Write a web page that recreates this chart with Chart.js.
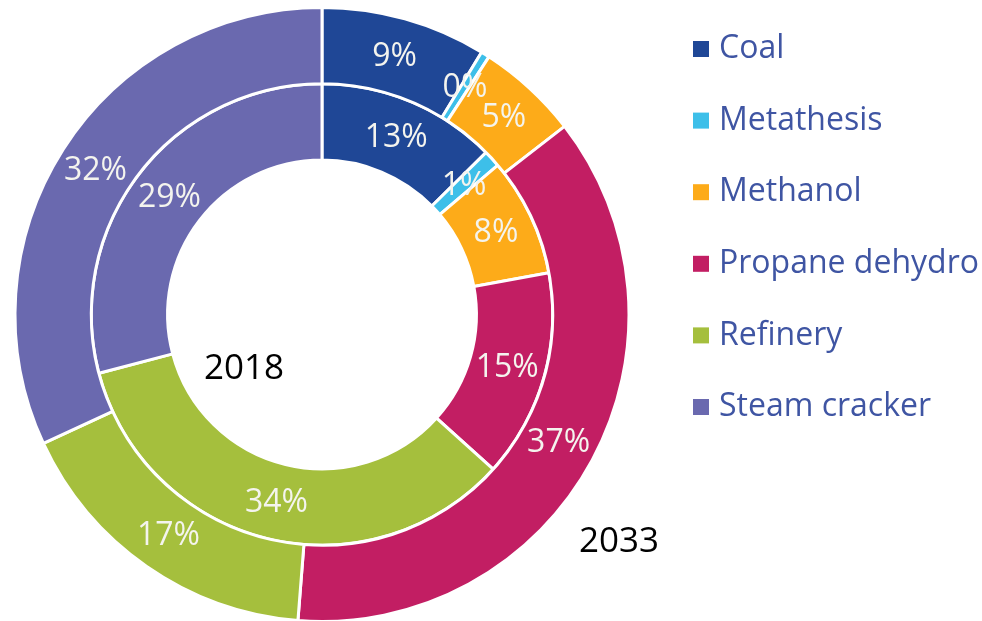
<!DOCTYPE html>
<html>
<head>
<meta charset="utf-8">
<script src="https://cdn.jsdelivr.net/npm/chart.js@4/dist/chart.umd.min.js"></script>
<style>
    html, body { margin: 0; padding: 0; background: #fff; }
    #wrap { position: relative; width: 982px; height: 621px; }
</style>
</head>
<body>
<div id="wrap"><canvas id="myChart"></canvas></div>
<script>
// categories and shares (%)
const categories = ['Coal', 'Metathesis', 'Methanol', 'Propane dehydro', 'Refinery', 'Steam cracker'];
const share2033 = [8.7, 0.45, 5.35, 36.75, 16.85, 31.9];
const share2018 = [12.6, 1.2, 8.3, 14.6, 34.2, 29.1];
const ringLabels = ['2033', '2018'];
const colors = ['#1f4796', '#3dbfe9', '#fdab19', '#c21e63', '#a5bf3d', '#6a69af'];

const FONT = '"Open Sans", "Noto Sans", sans-serif';

// white % text in the middle of each slice
const sliceLabels = {
    id: 'sliceLabels',
    afterDatasetsDraw(chart) {
        const ctx = chart.ctx;
        ctx.save();
        ctx.fillStyle = '#f4f4ee';
        ctx.font = '32px ' + FONT;
        ctx.textAlign = 'center';
        ctx.textBaseline = 'middle';
        chart.data.datasets.forEach((ds, i) => {
            chart.getDatasetMeta(i).data.forEach((arc, j) => {
                const p = arc.tooltipPosition();
                ctx.fillText(Math.round(ds.data[j]) + '%', p.x, p.y + 1);
            });
        });
        ctx.restore();
    }
};

// year names next to the rings
const yearLabels = {
    id: 'yearLabels',
    afterDatasetsDraw(chart) {
        const ctx = chart.ctx;
        const arc = chart.getDatasetMeta(0).data[0];
        ctx.save();
        ctx.fillStyle = '#000';
        ctx.font = '35px ' + FONT;
        ctx.textAlign = 'center';
        ctx.textBaseline = 'middle';
        ctx.fillText(ringLabels[1], arc.x - 78, arc.y + 55);
        ctx.fillText(ringLabels[0], arc.x + 297, arc.y + 228);
        ctx.restore();
    }
};

// legend on the right
const sideLegend = {
    id: 'sideLegend',
    afterDraw(chart) {
        const ctx = chart.ctx;
        ctx.save();
        ctx.font = '32px ' + FONT;
        ctx.textAlign = 'left';
        ctx.textBaseline = 'middle';
        categories.forEach((name, i) => {
            const y = 49 + i * 71.6;
            ctx.fillStyle = colors[i];
            ctx.fillRect(693, y - 8, 16, 16);
            ctx.fillStyle = '#3f55a3';
            ctx.fillText(name, 719, y);
        });
        ctx.restore();
    }
};

new Chart(document.getElementById('myChart'), {
    type: 'doughnut',
    data: {
        labels: categories,
        datasets: [{
            label: ringLabels[0],
            data: share2033,
            backgroundColor: colors,
            borderColor: '#fff',
            borderWidth: 3
        }, {
            label: ringLabels[1],
            data: share2018,
            backgroundColor: colors,
            borderColor: '#fff',
            borderWidth: 3
        }]
    },
    options: {
        responsive: true,
        maintainAspectRatio: false,
        animation: false,
        radius: 307,
        cutout: '50.3%',
        layout: { padding: { left: 0, right: 338, top: 8, bottom: 0 } },
        plugins: {
            legend: { display: false },
            tooltip: { enabled: false }
        }
    },
    plugins: [sliceLabels, yearLabels, sideLegend]
});
</script>
</body>
</html>
